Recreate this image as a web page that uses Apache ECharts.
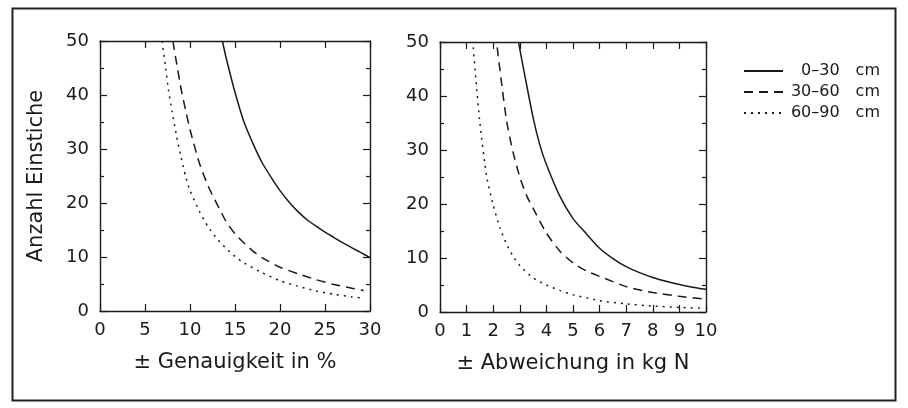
<!DOCTYPE html>
<html>
<head>
<meta charset="utf-8">
<script src="https://cdn.jsdelivr.net/npm/echarts@6/dist/echarts.min.js"></script>
<style>
  html, body { margin: 0; padding: 0; background: #fff; }
  #chart { width: 908px; height: 408px; }
</style>
</head>
<body>
<div id="chart"></div>
<script>
// Anzahl Einstiche vs. Genauigkeit / Abweichung, drei Bodentiefen
var tiefen = ['0–30 cm', '30–60 cm', '60–90 cm'];

// left panel: x = ± Genauigkeit in %, y = Anzahl Einstiche
var genau_0_30 = [[13.6,50],[14,47],[15,40.5],[16,35],[17,31],[18,27.5],[19,24.8],[20,22.3],[21,20.2],[22,18.4],[23,16.9],[24,15.7],[25,14.6],[26,13.6],[27,12.6],[28,11.7],[29,10.8],[30,9.9]];
var genau_30_60 = [[8.1,50],[8.5,46],[9,41.2],[9.5,37.3],[10,33.6],[11,27.6],[12,23.2],[13,19.8],[14,16.6],[15,14.3],[16,12.6],[17,11.1],[18,9.9],[20,8.1],[22,6.9],[24,5.8],[26,4.9],[28,4.2],[29.3,3.8]];
var genau_60_90 = [[6.9,50],[7.3,45],[7.6,41],[8,37],[8.5,32.5],[9,28.5],[9.5,25],[10,22.3],[11,18.6],[12,15.6],[13,13.4],[14,11.6],[15,10.1],[16,8.9],[18,7.1],[20,5.6],[22,4.6],[24,3.7],[26,3.1],[28,2.6],[29.3,2.4]];

// right panel: x = ± Abweichung in kg N
var abw_0_30 = [[2.95,50],[3.2,43.5],[3.5,36],[3.75,31],[4,27.3],[4.5,21.5],[5,17.3],[5.5,14.5],[6,11.8],[6.5,9.9],[7,8.4],[7.5,7.3],[8,6.4],[8.5,5.7],[9,5.1],[9.5,4.6],[10,4.2]];
var abw_30_60 = [[2.15,49],[2.3,43],[2.5,35.5],[2.75,29.5],[3,25],[3.25,21.6],[3.5,19.2],[4,14.6],[4.5,11.3],[5,9.1],[5.5,7.6],[6,6.6],[7,4.7],[8,3.6],[9,2.9],[9.9,2.4]];
var abw_60_90 = [[1.25,49],[1.35,43],[1.5,35],[1.75,25.2],[2,19.8],[2.25,15.6],[2.5,12.6],[2.75,10.3],[3,8.6],[3.5,6.3],[4,5],[4.5,4],[5,3.2],[6,2.1],[7,1.5],[8,1.1],[9,0.85],[9.9,0.7]];

var FONT = '"DejaVu Sans", sans-serif';
var INK = '#1a1a1a';
var lineTypes = ['solid', [9, 6], [2, 5]];

function xAx(gi, pos, max, step, name, show) {
  return {
    type: 'value', gridIndex: gi, position: pos, min: 0, max: max, interval: step,
    name: show ? name : '', nameLocation: 'middle', nameGap: 41,
    nameTextStyle: { fontFamily: FONT, fontSize: 21, color: INK },
    axisLine: { show: true, onZero: false, lineStyle: { color: INK, width: 1.4 } },
    axisTick: { show: true, inside: true, length: 7, lineStyle: { color: INK, width: 1.2 } },
    axisLabel: { show: show, margin: 10, fontFamily: FONT, fontSize: 18, color: INK },
    splitLine: { show: false }
  };
}

function yAx(gi, pos, show) {
  return {
    type: 'value', gridIndex: gi, position: pos, min: 0, max: 50, interval: 10,
    name: show && gi === 0 ? 'Anzahl Einstiche' : '', nameLocation: 'middle', nameGap: 53,
    nameTextStyle: { fontFamily: FONT, fontSize: 21, color: INK },
    axisLine: { show: true, onZero: false, lineStyle: { color: INK, width: 1.4 } },
    axisTick: { show: true, inside: true, length: 7, lineStyle: { color: INK, width: 1.2 } },
    minorTick: { show: true, splitNumber: 2, length: 4, lineStyle: { color: INK, width: 1.2 } },
    axisLabel: { show: show, margin: 11, fontFamily: FONT, fontSize: 18, color: INK },
    splitLine: { show: false }
  };
}

function ser(name, i, xi, yi, data) {
  return {
    type: 'line', name: name, xAxisIndex: xi, yAxisIndex: yi,
    data: data, showSymbol: false, symbol: 'none', smooth: 0.2,
    lineStyle: { color: INK, width: 1.5, type: lineTypes[i] },
    itemStyle: { color: INK }
  };
}

var chart = echarts.init(document.getElementById('chart'));
chart.setOption({
  animation: false,
  backgroundColor: '#fff',
  graphic: [{
    type: 'rect', left: 10, top: 6,
    shape: { width: 883, height: 392 },
    style: { fill: 'none', stroke: '#222', lineWidth: 2 }
  }],
  grid: [
    { left: 100, top: 41, width: 270, height: 270 },
    { left: 440, top: 42, width: 266, height: 270 }
  ],
  xAxis: [
    xAx(0, 'bottom', 30, 5, '± Genauigkeit in %', true),
    xAx(0, 'top', 30, 5, '', false),
    xAx(1, 'bottom', 10, 1, '± Abweichung in kg N', true),
    xAx(1, 'top', 10, 1, '', false)
  ],
  yAxis: [
    yAx(0, 'left', true),
    yAx(0, 'right', false),
    yAx(1, 'left', true),
    yAx(1, 'right', false)
  ],
  legend: {
    data: tiefen, orient: 'vertical', left: 738, top: 58,
    itemWidth: 39, itemHeight: 14, itemGap: 5,
    itemStyle: { opacity: 0 },
    formatter: function (n) { return '{a|' + n.replace(' ', '\u2003') + '}'; },
    textStyle: {
      fontFamily: FONT, fontSize: 16, color: INK,
      rich: { a: { width: 92, height: 18, align: 'right', fontFamily: FONT, fontSize: 16, color: INK } }
    }
  },
  series: [
    ser(tiefen[0], 0, 0, 0, genau_0_30),
    ser(tiefen[1], 1, 0, 0, genau_30_60),
    ser(tiefen[2], 2, 0, 0, genau_60_90),
    ser(tiefen[0], 0, 2, 2, abw_0_30),
    ser(tiefen[1], 1, 2, 2, abw_30_60),
    ser(tiefen[2], 2, 2, 2, abw_60_90)
  ]
});
</script>
</body>
</html>
